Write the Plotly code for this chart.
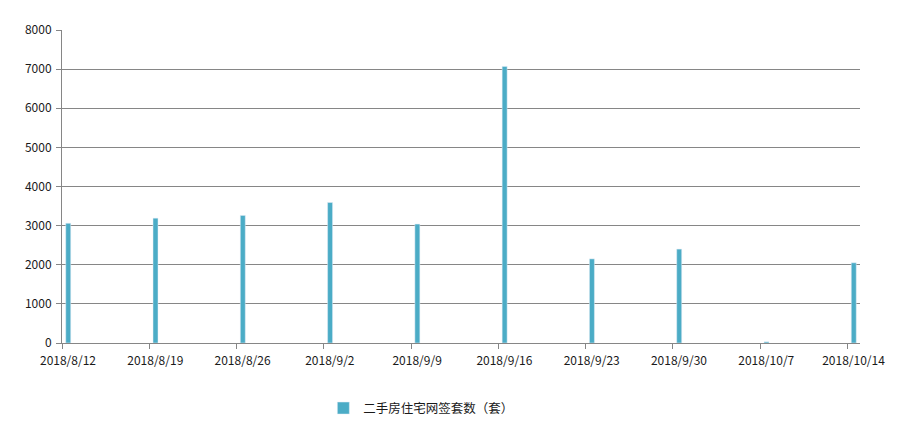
import plotly.graph_objects as go

# weekly online-signed second-hand housing units
dates = ["2018-08-12", "2018-08-19", "2018-08-26", "2018-09-02", "2018-09-09",
         "2018-09-16", "2018-09-23", "2018-09-30", "2018-10-07", "2018-10-14"]
units = [3060, 3190, 3260, 3590, 3040, 7070, 2150, 2400, 30, 2050]
tick_labels = ["2018/8/12", "2018/8/19", "2018/8/26", "2018/9/2", "2018/9/9",
               "2018/9/16", "2018/9/23", "2018/9/30", "2018/10/7", "2018/10/14"]
series_name = "二手房住宅网签套数（套）"

DAY = 86400000
bar_color = "#4BACC6"
grid_color = "#868686"
font = "Noto Sans CJK SC, Microsoft YaHei, sans-serif"

# excel date axis: each bar sits in the middle of its day slot
bar_x = [d + " 12:00" for d in dates]

fig = go.Figure()
fig.add_trace(go.Bar(x=bar_x, y=units, name=series_name,
                     marker_color=bar_color, width=0.4 * DAY))

# page body has an 8px margin, so the figure is shrunk to fit the window
fig.update_layout(
    width=893, height=427,
    margin=dict(l=54, r=41, t=18, b=91),
    paper_bgcolor="white", plot_bgcolor="white",
    font=dict(family=font, size=12, color="#1a1a1a"),
    showlegend=True,
    legend=dict(orientation="h", x=0.3275, xanchor="left", y=-0.209, yanchor="middle",
                font=dict(size=12.5, color="#1a1a1a")),
)
fig.update_xaxes(
    type="date", range=["2018-08-12", "2018-10-15"],
    tickvals=dates, ticktext=tick_labels, ticklabelshift=6, ticklabelstandoff=2,
    ticks="outside", ticklen=5, tickcolor=grid_color,
    showline=True, linecolor=grid_color, showgrid=False,
)
fig.update_yaxes(
    range=[0, 8000], dtick=1000, ticklabelstandoff=2,
    ticks="outside", ticklen=5, tickcolor=grid_color,
    showline=True, linecolor=grid_color,
    showgrid=True, gridcolor=grid_color, gridwidth=1, zeroline=False,
)

fig.write_html("out.html")
